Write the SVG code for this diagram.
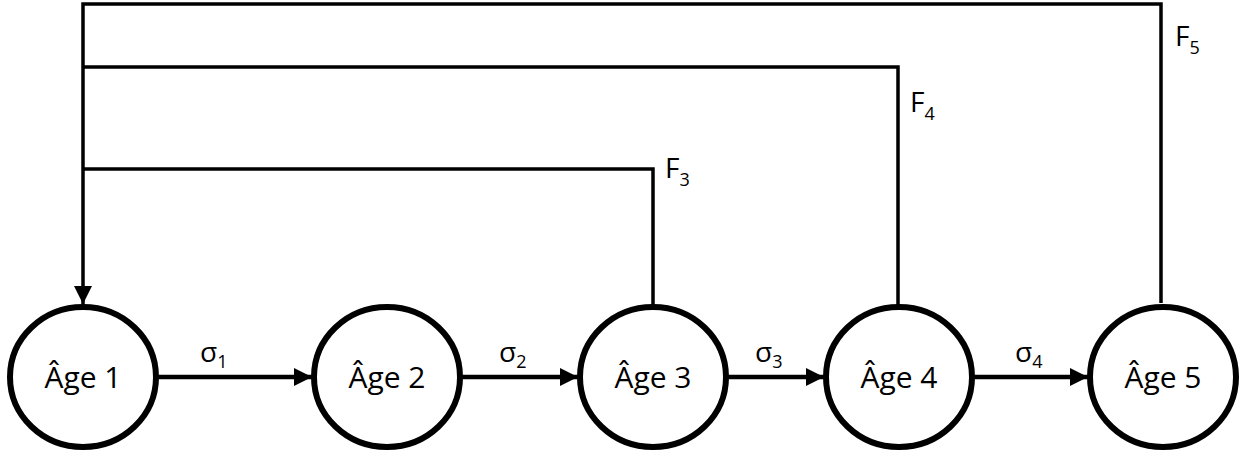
<svg xmlns="http://www.w3.org/2000/svg" width="1244" height="452" viewBox="0 0 1244 452">
<style>
.node{fill:#fff;stroke:#000;stroke-width:6}
.lbl{font-family:"Open Sans","Noto Sans",sans-serif;font-size:30px;fill:#000;text-anchor:middle}
.el{font-family:"Open Sans","Noto Sans",sans-serif;font-size:28px;fill:#000}
.sub{font-size:18px}
.fb{fill:none;stroke:#000;stroke-width:3.5}
.tr{fill:none;stroke:#000;stroke-width:4.5}
</style>
<defs>
<marker id="ah" markerUnits="userSpaceOnUse" markerWidth="18" markerHeight="18" refX="18" refY="9" orient="auto" viewBox="0 0 18 18"><path d="M0,0 L18,9 L0,18 Z" fill="#000"/></marker>
</defs>
<g id="connectors">
<path class="fb" d="M1161,303 V4 H83 V304" marker-end="url(#ah)"/>
<path class="fb" d="M898,305 V67 H83"/>
<path class="fb" d="M653,305 V169 H83"/>
<path class="tr" d="M158,377 H312" marker-end="url(#ah)"/>
<path class="tr" d="M462,377 H578" marker-end="url(#ah)"/>
<path class="tr" d="M728,377 H824" marker-end="url(#ah)"/>
<path class="tr" d="M974,377 H1088" marker-end="url(#ah)"/>
<text class="el" x="200" y="362">σ<tspan class="sub" dy="6">1</tspan></text>
<text class="el" x="499" y="362">σ<tspan class="sub" dy="6">2</tspan></text>
<text class="el" x="755" y="362">σ<tspan class="sub" dy="6">3</tspan></text>
<text class="el" x="1015" y="362">σ<tspan class="sub" dy="6">4</tspan></text>
<text class="el" x="665" y="178">F<tspan class="sub" dy="8">3</tspan></text>
<text class="el" x="910" y="112">F<tspan class="sub" dy="8">4</tspan></text>
<text class="el" x="1175" y="46">F<tspan class="sub" dy="8">5</tspan></text>
</g>
<g id="age1"><ellipse class="node" cx="83" cy="377" rx="73" ry="70"/><text class="lbl" x="83" y="388">Âge 1</text></g>
<g id="age2"><ellipse class="node" cx="387" cy="377" rx="73" ry="70"/><text class="lbl" x="387" y="388">Âge 2</text></g>
<g id="age3"><ellipse class="node" cx="653" cy="377" rx="73" ry="70"/><text class="lbl" x="653" y="388">Âge 3</text></g>
<g id="age4"><ellipse class="node" cx="899" cy="377" rx="73" ry="70"/><text class="lbl" x="899" y="388">Âge 4</text></g>
<g id="age5"><ellipse class="node" cx="1163" cy="377" rx="73" ry="70"/><text class="lbl" x="1163" y="388">Âge 5</text></g>
</svg>
